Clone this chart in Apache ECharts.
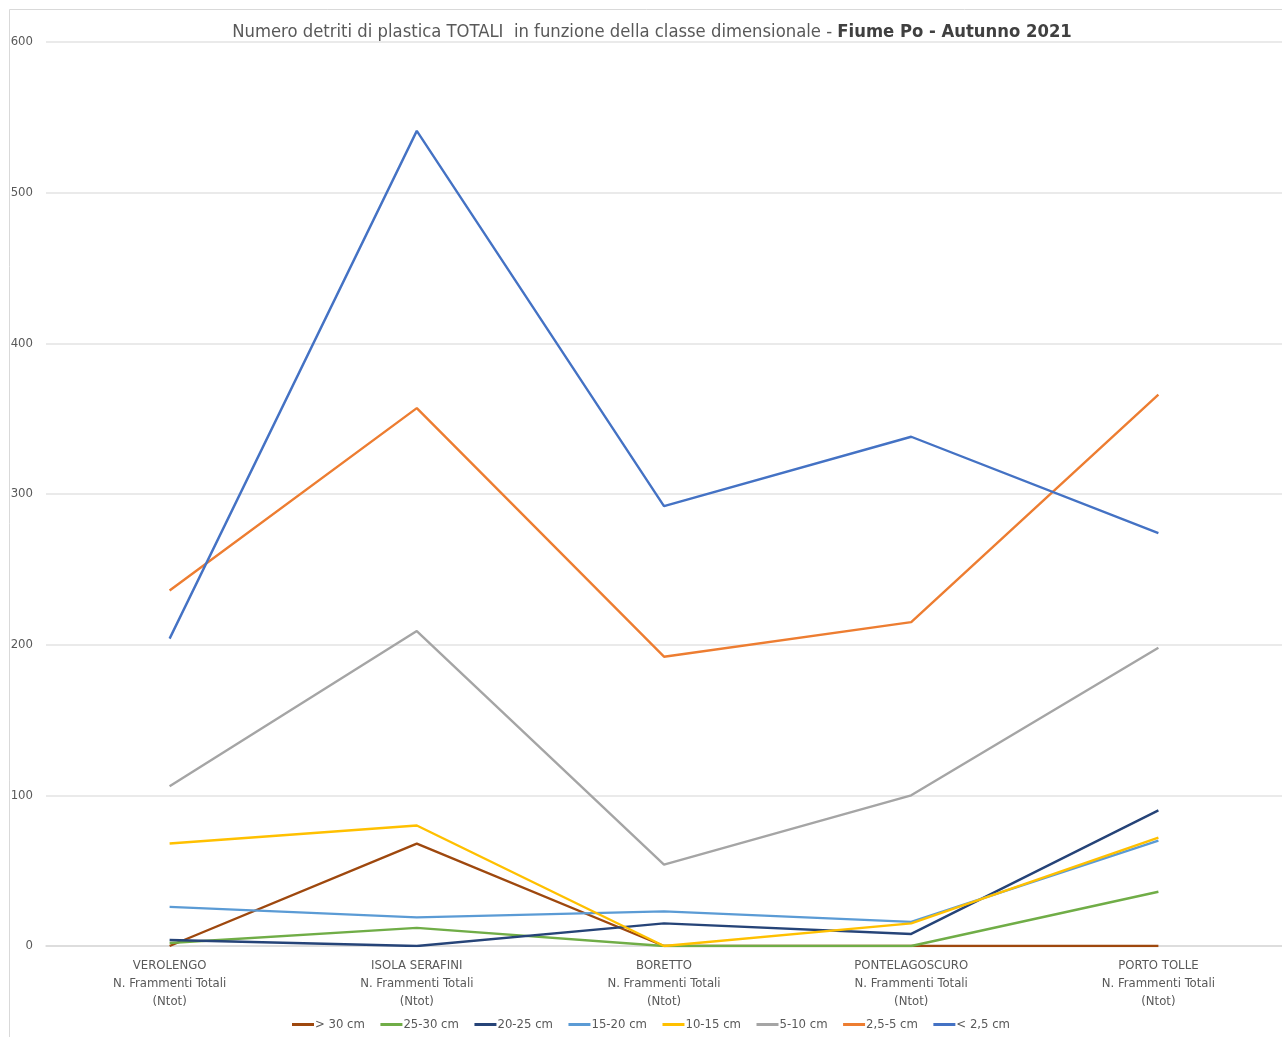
<!DOCTYPE html>
<html>
<head>
<meta charset="utf-8">
<script src="https://cdn.jsdelivr.net/npm/echarts@6/dist/echarts.min.js"></script>
<style>
html,body{margin:0;padding:0;background:#fff;}
#chart{width:1282px;height:1037px;}
</style>
</head>
<body>
<div id="chart"></div>
<script>
const categories = [
  'VEROLENGO\nN. Frammenti Totali\n(Ntot)',
  'ISOLA SERAFINI\nN. Frammenti Totali\n(Ntot)',
  'BORETTO\nN. Frammenti Totali\n(Ntot)',
  'PONTELAGOSCURO\nN. Frammenti Totali\n(Ntot)',
  'PORTO TOLLE\nN. Frammenti Totali\n(Ntot)'
];
const seriesNames = ['> 30 cm', '25-30 cm', '20-25 cm', '15-20 cm', '10-15 cm', '5-10 cm', '2,5-5 cm', '< 2,5 cm'];
const over30 = [0, 68, 0, 0, 0];
const s25_30 = [2, 12, 0, 0, 36];
const s20_25 = [4, 0, 15, 8, 90];
const s15_20 = [26, 19, 23, 16, 70];
const s10_15 = [68, 80, 0, 15, 72];
const s5_10 = [106, 209, 54, 100, 198];
const s2_5_5 = [236, 357, 192, 215, 366];
const under2_5 = [204, 541, 292, 338, 274];
const yTicks = [0, 100, 200, 300, 400, 500, 600];

const values = [over30, s25_30, s20_25, s15_20, s10_15, s5_10, s2_5_5, under2_5];
const colors = ['#9E480E', '#70AD47', '#264478', '#5B9BD5', '#FFC000', '#A5A5A5', '#ED7D31', '#4472C4'];
const FONT = "'Liberation Sans Narrow', 'DejaVu Sans Condensed', 'Liberation Sans', sans-serif";

const chart = echarts.init(document.getElementById('chart'));
chart.setOption({
  animation: false,
  backgroundColor: '#ffffff',
  textStyle: { fontFamily: FONT },
  graphic: [{
    type: 'rect', silent: true, z: -1,
    shape: { x: 9.5, y: 9.5, width: 1290, height: 1050 },
    style: { fill: 'none', stroke: '#d9d9d9', lineWidth: 1 }
  }],
  title: {
    left: 647, top: 18, textAlign: 'center',
    text: '{r|Numero detriti di plastica TOTALI  in funzione della classe dimensionale - }{b|Fiume Po - Autunno 2021}',
    textStyle: {
      rich: {
        r: { fontFamily: FONT, fontSize: 18.3, color: '#595959', fontWeight: 'normal' },
        b: { fontFamily: FONT, fontSize: 18.3, color: '#404040', fontWeight: 'bold' }
      }
    }
  },
  legend: {
    bottom: 1, left: 287,
    data: seriesNames,
    icon: 'rect', itemWidth: 22, itemHeight: 3, itemGap: 15.5,
    textStyle: { fontFamily: FONT, fontSize: 13, color: '#595959', padding: [0, 0, 0, -4] }
  },
  grid: { left: 46, top: 42, right: -3, bottom: 91, containLabel: false },
  xAxis: {
    type: 'category',
    data: categories,
    boundaryGap: true,
    axisLine: { show: true, lineStyle: { color: '#d9d9d9', width: 1.5 } },
    axisTick: { show: false },
    axisLabel: { color: '#595959', fontFamily: FONT, fontSize: 13, lineHeight: 18, margin: 11, interval: 0 }
  },
  yAxis: {
    type: 'value', min: yTicks[0], max: yTicks[yTicks.length - 1], interval: 100,
    axisLine: { show: false }, axisTick: { show: false },
    axisLabel: { color: '#595959', fontFamily: FONT, fontSize: 13, margin: 13 },
    splitLine: { lineStyle: { color: '#e3e3e3', width: 1.5 } }
  },
  series: seriesNames.map((n, i) => ({
    name: n, type: 'line', data: values[i],
    showSymbol: false, symbol: 'none',
    lineStyle: { color: colors[i], width: 2.4 },
    itemStyle: { color: colors[i] }
  }))
});
</script>
</body>
</html>
